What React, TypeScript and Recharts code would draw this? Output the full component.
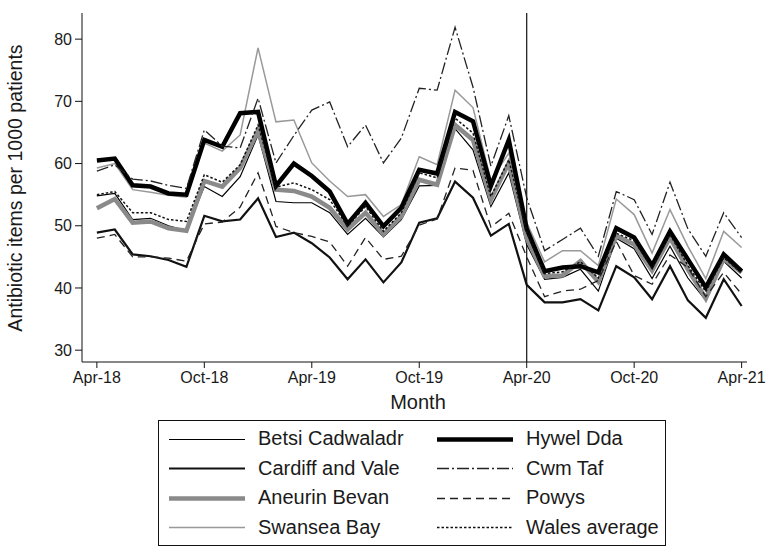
import React from "react";
import { LineChart, Line, XAxis, YAxis, ReferenceLine } from "recharts";

// ─── Data ─────────────────────────────────────────────────────────────────────
const months = [
  "Apr-18", "May-18", "Jun-18", "Jul-18", "Aug-18", "Sep-18", "Oct-18", "Nov-18", "Dec-18",
  "Jan-19", "Feb-19", "Mar-19", "Apr-19", "May-19", "Jun-19", "Jul-19", "Aug-19", "Sep-19",
  "Oct-19", "Nov-19", "Dec-19", "Jan-20", "Feb-20", "Mar-20", "Apr-20", "May-20", "Jun-20",
  "Jul-20", "Aug-20", "Sep-20", "Oct-20", "Nov-20", "Dec-20", "Jan-21", "Feb-21", "Mar-21",
  "Apr-21",
];
const tickMonths = ["Apr-18", "Oct-18", "Apr-19", "Oct-19", "Apr-20", "Oct-20", "Apr-21"];
const yTicks = [30, 40, 50, 60, 70, 80];
const breakMonth = "Apr-20";

const betsi = [54.8, 55.2, 51.0, 51.2, 50.0, 49.2, 56.3, 54.7, 57.9, 64.6, 53.9, 53.7, 53.7, 52.1, 48.6, 51.2, 48.2, 51.0, 56.4, 56.5, 65.6, 62.2, 53.1, 58.5, 47.0, 41.4, 41.7, 43.0, 39.5, 48.0, 46.3, 41.5, 46.7, 41.6, 38.0, 44.3, 41.6];
const cardiff = [48.9, 49.4, 45.4, 45.1, 44.5, 43.4, 51.6, 50.7, 51.0, 54.4, 48.2, 48.9, 47.2, 44.9, 41.4, 44.6, 40.9, 44.1, 50.5, 51.2, 57.1, 54.5, 48.4, 50.3, 40.5, 37.7, 37.7, 38.2, 36.4, 43.5, 41.7, 38.2, 43.5, 38.0, 35.2, 41.4, 37.1];
const aneurin = [52.8, 54.3, 50.5, 50.7, 49.6, 49.2, 57.2, 56.3, 59.3, 65.3, 55.8, 55.6, 54.7, 52.9, 49.4, 52.1, 48.6, 51.5, 57.4, 56.6, 66.2, 63.8, 54.2, 60.1, 48.0, 41.9, 42.0, 44.3, 41.0, 48.4, 47.0, 42.8, 48.1, 43.0, 38.3, 44.7, 42.5];
const swansea = [59.3, 60.0, 55.8, 55.4, 54.9, 54.6, 63.3, 62.0, 64.6, 78.6, 66.7, 67.0, 60.1, 57.2, 54.7, 55.0, 51.5, 53.4, 61.1, 59.8, 71.8, 69.0, 57.3, 61.7, 50.5, 44.2, 46.0, 46.0, 43.6, 54.3, 51.8, 45.6, 52.6, 46.7, 41.5, 49.1, 46.5];
const hywel = [60.5, 60.8, 56.5, 56.3, 55.2, 55.0, 63.8, 62.7, 68.1, 68.3, 56.4, 60.0, 58.0, 55.5, 50.3, 53.7, 49.9, 52.9, 59.0, 58.4, 68.3, 66.8, 56.4, 63.8, 49.5, 42.7, 43.3, 43.5, 42.5, 49.6, 48.1, 43.6, 49.1, 44.6, 40.1, 45.4, 42.7];
const cwmTaf = [58.8, 59.8, 57.5, 57.2, 56.5, 56.0, 65.4, 62.8, 62.5, 70.5, 60.1, 64.5, 68.6, 69.9, 62.7, 66.2, 60.1, 64.1, 72.1, 71.8, 81.9, 72.3, 59.6, 67.7, 54.5, 46.0, 47.8, 49.6, 45.1, 55.5, 54.2, 48.6, 57.0, 49.5, 45.1, 52.1, 48.1];
const powys = [48.0, 48.6, 45.0, 45.0, 44.8, 44.3, 50.3, 50.6, 53.0, 58.5, 49.9, 48.9, 48.3, 47.4, 43.5, 48.1, 44.6, 45.1, 50.1, 51.1, 59.3, 58.9, 49.8, 52.0, 45.0, 38.6, 39.5, 39.8, 41.2, 47.5, 42.0, 40.6, 45.3, 43.3, 38.6, 42.5, 39.0];
const wales = [55.0, 55.5, 52.1, 52.1, 51.0, 50.7, 58.2, 57.0, 59.8, 66.2, 56.2, 56.9, 55.8, 54.2, 49.9, 53.1, 49.1, 52.1, 58.5, 57.7, 67.3, 64.9, 54.7, 60.6, 49.0, 42.3, 42.6, 44.2, 41.6, 48.8, 47.6, 43.2, 48.6, 43.6, 39.4, 44.9, 42.4];

// ─── Series styles ────────────────────────────────────────────────────────────
type SeriesDef = {
  key: string;
  name: string;
  values: number[];
  color: string;
  width: number;
  dash?: string;
};

const series: SeriesDef[] = [
  { key: "betsi", name: "Betsi Cadwaladr", values: betsi, color: "#000", width: 1.2 },
  { key: "cardiff", name: "Cardiff and Vale", values: cardiff, color: "#111", width: 2.2 },
  { key: "aneurin", name: "Aneurin Bevan", values: aneurin, color: "#8a8a8a", width: 4.5 },
  { key: "swansea", name: "Swansea Bay", values: swansea, color: "#999", width: 1.5 },
  { key: "hywel", name: "Hywel Dda", values: hywel, color: "#000", width: 4.5 },
  { key: "cwmTaf", name: "Cwm Taf", values: cwmTaf, color: "#222", width: 1.3, dash: "12 3 2 3" },
  { key: "powys", name: "Powys", values: powys, color: "#222", width: 1.3, dash: "8 5" },
  { key: "wales", name: "Wales average", values: wales, color: "#111", width: 1.5, dash: "2.5 2" },
];

const data = months.map((m, i) => {
  const row: Record<string, number | string> = { i, month: m };
  series.forEach((s) => (row[s.key] = s.values[i]));
  return row;
});

const xTicks = tickMonths.map((m) => months.indexOf(m));
const font = "'Liberation Sans', Arial, sans-serif";
const tickStyle = { fontSize: 16, fill: "#1a1a1a", fontFamily: font };

function LegendItem({ s }: { s: SeriesDef }) {
  return (
    <div style={{ display: "flex", alignItems: "center", height: 29.5 }}>
      <svg width={76} height={10} style={{ marginRight: 13 }}>
        <line
          x1={0}
          y1={5.5}
          x2={76}
          y2={5.5}
          stroke={s.color}
          strokeWidth={s.width}
          strokeDasharray={s.dash}
        />
      </svg>
      <span>{s.name}</span>
    </div>
  );
}

export default function App() {
  const left = series.slice(0, 4);
  const right = series.slice(4);
  return (
    <div
      style={{
        position: "absolute",
        left: 0,
        top: 0,
        width: 767,
        height: 552,
        background: "#fff",
        fontFamily: font,
        color: "#1a1a1a",
      }}
    >
      <LineChart
        width={767}
        height={410}
        data={data}
        margin={{ top: 13, right: 20, left: 0, bottom: 0 }}
      >
        <XAxis
          dataKey="i"
          type="number"
          domain={[-0.83, 36.3]}
          ticks={xTicks}
          tickFormatter={(v) => months[v]}
          height={48}
          tickSize={6}
          tickMargin={4}
          stroke="#111"
          tick={tickStyle}
          interval={0}
        />
        <YAxis
          type="number"
          domain={[28.1, 84.2]}
          ticks={yTicks}
          width={82}
          tickSize={7}
          tickMargin={3}
          stroke="#111"
          tick={tickStyle}
          interval={0}
        />
        <ReferenceLine x={months.indexOf(breakMonth)} stroke="#111" strokeWidth={1.2} />
        {series.map((s) => (
          <Line
            key={s.key}
            type="linear"
            dataKey={s.key}
            stroke={s.color}
            strokeWidth={s.width}
            strokeDasharray={s.dash}
            dot={false}
            activeDot={false}
            strokeLinejoin="miter"
            isAnimationActive={false}
          />
        ))}
      </LineChart>

      <div
        style={{
          position: "absolute",
          left: 15,
          top: 188,
          transform: "translate(-50%, -50%) rotate(-90deg)",
          whiteSpace: "nowrap",
          fontSize: 19.5,
        }}
      >
        Antibiotic items per 1000 patients
      </div>
      <div
        style={{
          position: "absolute",
          left: 418,
          top: 402,
          transform: "translate(-50%, -50%)",
          fontSize: 20,
        }}
      >
        Month
      </div>

      <div
        style={{
          position: "absolute",
          left: 158,
          top: 420,
          width: 508,
          height: 126,
          border: "1.3px solid #111",
          boxSizing: "border-box",
          fontSize: 20,
          display: "flex",
          paddingLeft: 10,
          paddingTop: 3,
        }}
      >
        <div style={{ width: 268 }}>
          {left.map((s) => (
            <LegendItem key={s.key} s={s} />
          ))}
        </div>
        <div>
          {right.map((s) => (
            <LegendItem key={s.key} s={s} />
          ))}
        </div>
      </div>
    </div>
  );
}
